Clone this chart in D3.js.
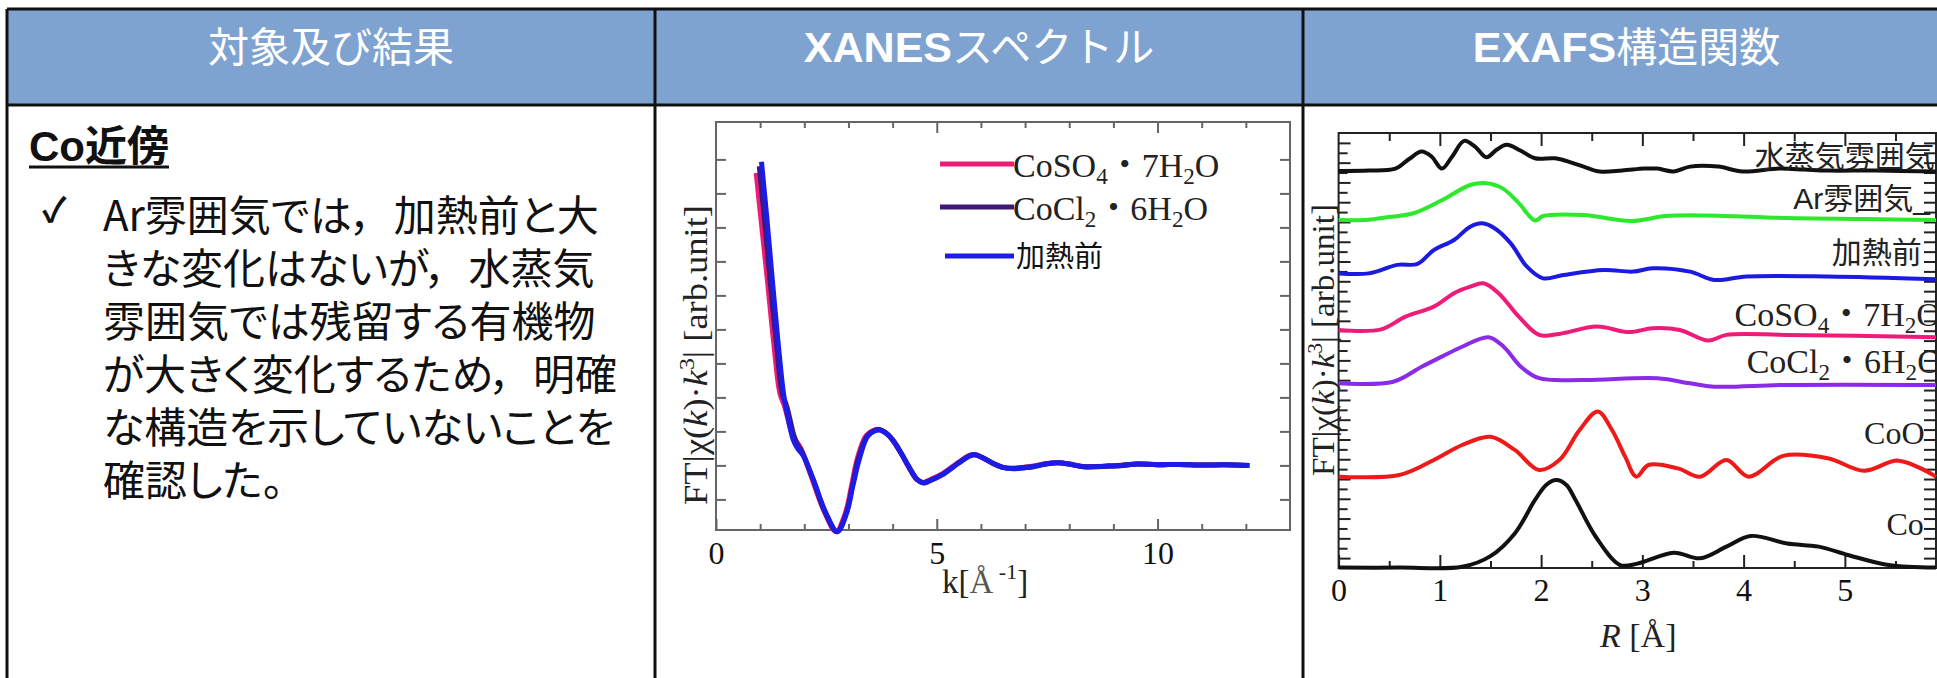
<!DOCTYPE html>
<html>
<head>
<meta charset="utf-8">
<script src="https://cdn.jsdelivr.net/npm/d3@7"></script>
<style>
body { margin: 0; background: #fff; overflow: hidden; }
text { font-family: "Liberation Sans", "Noto Sans CJK JP", sans-serif; }
.serif { font-family: "Liberation Serif", "Noto Sans CJK JP", serif; }
.jp { font-family: "Noto Sans CJK JP", sans-serif; font-feature-settings: "palt"; }
</style>
</head>
<body>
<svg id="chart" width="1937" height="678"></svg>
<script>
// table text
var headers = [
	[['対象及び結果', false]],
	[['XANES', true], ['スペクトル', false]],
	[['EXAFS', true], ['構造関数', false]]
];
var noteTitle = 'Co近傍';
var noteLines = [
	'Ar雰囲気では，加熱前と大',
	'きな変化はないが，水蒸気',
	'雰囲気では残留する有機物',
	'が大きく変化するため，明確',
	'な構造を示していないことを',
	'確認した。'
];

// XANES panel: k [1/A] vs FT|chi(k)k^3| (arb.)
var xanesNames = ['CoSO4・7H2O', 'CoCl2・6H2O', '加熱前'];
var xanesCoSO4 = [[0.91,8.6],[1.03,7.1],[1.16,5.5],[1.3,3.7],[1.45,2.1],[1.55,1.75],[1.72,0.95],[1.8,0.75],[1.92,0.5],[2.15,-0.3],[2.45,-1.35],[2.72,-1.95],[2.93,-1.4],[3.07,-0.6],[3.2,0.2],[3.4,0.88],[3.58,1.04],[3.7,1.06],[3.85,0.95],[4.0,0.75],[4.2,0.33],[4.37,-0.06],[4.55,-0.42],[4.7,-0.5],[4.85,-0.42],[5.12,-0.25],[5.5,0.1],[5.75,0.3],[5.87,0.32],[6.05,0.22],[6.26,0.06],[6.5,-0.06],[6.73,-0.08],[7.0,-0.05],[7.19,-0.02],[7.5,0.06],[7.76,0.08],[8.0,0.04],[8.32,-0.03],[8.88,-0.02],[9.2,0.01],[9.54,0.04],[10.0,0.02],[10.5,0.03],[11.0,0.01],[11.5,0.02],[12.08,0.0]];
var xanesCoCl2 = [[0.98,8.8],[1.1,7.2],[1.22,5.5],[1.36,3.7],[1.5,2.1],[1.6,1.75],[1.76,0.9],[1.84,0.62],[1.95,0.4],[2.18,-0.35],[2.47,-1.38],[2.74,-1.95],[2.95,-1.4],[3.09,-0.6],[3.22,0.18],[3.42,0.86],[3.6,1.03],[3.71,1.05],[3.85,0.95],[4.0,0.75],[4.2,0.34],[4.37,-0.05],[4.55,-0.41],[4.7,-0.51],[4.85,-0.44],[5.12,-0.27],[5.5,0.08],[5.75,0.29],[5.87,0.31],[6.05,0.22],[6.26,0.07],[6.5,-0.06],[6.73,-0.09],[7.0,-0.06],[7.19,-0.03],[7.5,0.05],[7.76,0.08],[8.0,0.04],[8.32,-0.04],[8.88,-0.02],[9.2,0.0],[9.54,0.04],[10.0,0.02],[10.5,0.03],[11.0,0.01],[11.5,0.02],[12.08,0.0]];
var xanesBefore = [[1.03,8.93],[1.15,7.3],[1.27,5.54],[1.4,3.7],[1.52,2.2],[1.57,1.8],[1.75,0.75],[1.85,0.5],[1.97,0.3],[2.2,-0.4],[2.49,-1.4],[2.75,-1.95],[2.96,-1.4],[3.1,-0.6],[3.24,0.16],[3.43,0.85],[3.6,1.02],[3.71,1.04],[3.85,0.95],[4.0,0.75],[4.2,0.35],[4.37,-0.04],[4.55,-0.4],[4.7,-0.52],[4.85,-0.45],[5.12,-0.28],[5.5,0.07],[5.75,0.28],[5.87,0.31],[6.05,0.22],[6.26,0.07],[6.5,-0.06],[6.73,-0.1],[7.0,-0.07],[7.19,-0.04],[7.5,0.05],[7.76,0.08],[8.0,0.04],[8.32,-0.04],[8.88,-0.02],[9.2,0.0],[9.54,0.04],[10.0,0.02],[10.5,0.03],[11.0,0.01],[11.5,0.02],[12.08,0.0]];
var xanesTicks = [0, 5, 10];

// EXAFS panel: R [A] vs stacked FT magnitude (arb.)
var exafsNames = ['水蒸気雰囲気', 'Ar雰囲気_', '加熱前', 'CoSO4・7H2O', 'CoCl2・6H2O', 'CoO', 'Co'];
var exafsVapor = [[0,20.08],[0.3,20.1],[0.56,20.2],[0.7,20.7],[0.82,21.06],[0.92,20.8],[1.02,20.2],[1.12,20.8],[1.24,21.6],[1.35,21.3],[1.46,20.77],[1.56,21.15],[1.66,21.4],[1.8,21.1],[1.94,20.72],[2.14,20.72],[2.3,20.5],[2.42,20.3],[2.58,20.05],[2.8,20.1],[3.02,20.2],[3.15,20.2],[3.31,20.05],[3.47,20.3],[3.75,20.3],[3.99,20.05],[4.35,20.2],[4.6,20.15],[4.83,20.1],[5.3,20.1],[5.9,20.05]];
var exafsAr = [[0,17.6],[0.26,17.6],[0.5,17.75],[0.74,17.94],[1.02,18.6],[1.3,19.37],[1.46,19.46],[1.62,19.2],[1.78,18.45],[1.94,17.57],[2.02,17.8],[2.42,17.85],[2.89,17.55],[3.23,17.8],[3.63,17.83],[4.43,17.7],[5.2,17.65],[5.9,17.6]];
var exafsBefore = [[0,14.9],[0.3,14.9],[0.58,15.33],[0.78,15.38],[0.94,16.08],[1.14,16.59],[1.3,17.26],[1.42,17.43],[1.54,17.18],[1.7,16.42],[1.86,15.24],[2.02,14.65],[2.22,14.82],[2.62,15.07],[2.91,14.99],[3.1,15.16],[3.47,14.99],[3.71,14.57],[4.03,14.74],[4.83,14.74],[5.9,14.6]];
var exafsCoSO4 = [[0,12.04],[0.42,12.07],[0.66,12.71],[0.94,13.22],[1.14,13.9],[1.3,14.23],[1.43,14.4],[1.58,13.9],[1.78,12.71],[1.98,11.79],[2.18,11.84],[2.55,12.21],[2.87,11.93],[3.1,12.13],[3.37,12.04],[3.65,11.5],[3.83,11.79],[4.43,11.79],[5.9,11.67]];
var exafsCoCl2 = [[0,9.34],[0.54,9.42],[0.82,10.18],[1.02,10.69],[1.22,11.19],[1.48,11.67],[1.63,11.19],[1.8,10.18],[1.98,9.6],[2.42,9.51],[3.15,9.6],[3.47,9.34],[3.71,9.17],[4.43,9.26],[5.9,9.26]];
var exafsCoO = [[0,4.62],[0.6,4.7],[0.94,5.46],[1.22,6.22],[1.5,6.64],[1.74,5.97],[1.98,4.96],[2.18,5.46],[2.38,6.98],[2.56,7.91],[2.7,6.98],[2.83,5.63],[2.94,4.62],[3.06,5.21],[3.35,5.04],[3.57,4.62],[3.83,5.46],[4.05,4.62],[4.39,5.67],[4.83,5.55],[5.19,4.92],[5.53,5.43],[5.9,4.62]];
var exafsCo = [[0,0.02],[0.6,0.02],[1.22,0.06],[1.5,0.6],[1.74,1.75],[1.94,3.44],[2.05,4.2],[2.15,4.45],[2.25,4.2],[2.34,3.44],[2.54,1.58],[2.78,0.15],[2.95,0.22],[3.31,0.77],[3.57,0.49],[3.83,1.08],[4.07,1.62],[4.43,1.24],[4.74,1.08],[5.03,0.66],[5.43,0.15],[5.9,0.02]];
var exafsTicks = [0, 1, 2, 3, 4, 5];

var svg = d3.select('#chart');
var W = 1937, H = 678;
var colX = [7, 655, 1303, 1950];
var headTop = 9, headBottom = 105;

// rich text: chemical formulas get subscripts, parts list gets italics/superscripts
function chem(sel, str, size) {
	var runs = [];
	for (var i = 0; i < str.length; i++) {
		var c = str[i];
		var sub = /\d/.test(c) && i > 0 && /[A-Za-z]/.test(str[i-1]);
		if (runs.length && runs[runs.length-1].sub === sub) runs[runs.length-1].t += c;
		else runs.push({t: c, sub: sub});
	}
	var shift = 0;
	runs.forEach(function(r) {
		var d = r.sub ? size*0.22 : 0;
		sel.append('tspan').attr('dy', d - shift).attr('font-size', r.sub ? size*0.68 : size).text(r.t);
		shift = d;
	});
}
function ftLabel(sel, size) {
	var parts = [['FT|χ(', 0], ['k', 1], [')·', 0], ['k', 1], ['3', 2], ['| [arb.unit]', 0]];
	var shift = 0;
	parts.forEach(function(p) {
		var d = p[1] === 2 ? -size*0.38 : 0;
		sel.append('tspan').attr('dy', d - shift)
			.attr('font-size', p[1] === 2 ? size*0.65 : size)
			.attr('font-style', p[1] === 1 ? 'italic' : 'normal')
			.text(p[0]);
		shift = d;
	});
}
function styleAxis(g, color, width) {
	g.select('.domain').remove();
	g.selectAll('.tick line').attr('stroke', color).attr('stroke-width', width);
	g.selectAll('.tick text').attr('fill', '#111').attr('font-family', null).attr('class', 'serif');
}

// ---------- table ----------
svg.append('rect').attr('x', colX[0]).attr('y', headTop).attr('width', W - colX[0]).attr('height', headBottom - headTop).attr('fill', '#7fa3d1');

headers.forEach(function(parts, i) {
	var t = svg.append('text')
		.attr('x', (colX[i] + colX[i+1]) / 2)
		.attr('y', 62)
		.attr('text-anchor', 'middle')
		.attr('fill', '#fff')
		.attr('font-size', 42);
	parts.forEach(function(p) {
		t.append('tspan')
			.attr('font-weight', p[1] ? 'bold' : 'normal')
			.attr('font-family', p[1] ? '"Liberation Sans", sans-serif' : '"Noto Sans CJK JP", sans-serif')
			.attr('font-size', p[1] ? 43 : 41)
			.text(p[0]);
	});
});

var lines = svg.append('g').attr('stroke', '#111').attr('stroke-width', 3);
lines.append('line').attr('x1', colX[0]).attr('x2', W).attr('y1', headTop).attr('y2', headTop);
lines.append('line').attr('x1', colX[0]).attr('x2', W).attr('y1', headBottom).attr('y2', headBottom);
colX.slice(0, 3).forEach(function(x) {
	lines.append('line').attr('x1', x).attr('x2', x).attr('y1', headTop).attr('y2', H);
});

// left column note
var title = svg.append('text').attr('x', 29).attr('y', 161).attr('font-size', 42).attr('font-weight', 'bold').attr('fill', '#111');
title.append('tspan').attr('font-family', '"Liberation Sans", sans-serif').text(noteTitle.slice(0, 2));
title.append('tspan').attr('font-family', '"Noto Sans CJK JP", sans-serif').text(noteTitle.slice(2));
var tw = title.node().getComputedTextLength();
svg.append('line').attr('x1', 29).attr('x2', 29 + tw).attr('y1', 167).attr('y2', 167).attr('stroke', '#111').attr('stroke-width', 3);

svg.append('text').attr('x', 42).attr('y', 222).attr('font-size', 34).attr('font-weight', 'bold')
	.attr('font-family', '"DejaVu Sans", sans-serif').attr('fill', '#111').text('✓');

// proportional kana, but the comma keeps its full-width gap
svg.append('g').selectAll('text').data(noteLines).join('text')
	.attr('class', 'jp')
	.attr('x', 103)
	.attr('y', function(d, i) { return 231 + i * 53; })
	.attr('font-size', 42)
	.attr('fill', '#111')
	.text(function(d) { return d.replace(/，/g, '，\u2002'); });

// ---------- XANES ----------
var xX = d3.scaleLinear().domain([0, 13]).range([716, 1290]);
var xY = d3.scaleLinear().domain([-1.9, 10.1]).range([530, 122]);
var gx = svg.append('g');
var xFrame = '#666';

gx.append('g').attr('transform', 'translate(0,' + xY.range()[0] + ')')
	.call(d3.axisBottom(xX).tickValues(d3.range(1, 13).filter(function(v) { return v % 5; })).tickSize(-6).tickFormat(''))
	.call(styleAxis, xFrame, 2);
gx.append('g').attr('transform', 'translate(0,' + xY.range()[0] + ')')
	.call(d3.axisBottom(xX).tickValues(xanesTicks).tickSize(-11).tickPadding(11).tickFormat(d3.format('d')))
	.call(styleAxis, xFrame, 2)
	.selectAll('.tick text').attr('font-size', 32);
gx.append('g').attr('transform', 'translate(0,' + xY.range()[1] + ')')
	.call(d3.axisTop(xX).tickValues(d3.range(1, 13)).tickSize(-6).tickFormat(''))
	.call(styleAxis, xFrame, 2)
	.selectAll('.tick line').attr('y2', function(d) { return d % 5 ? 6 : 11; });
gx.append('g').attr('transform', 'translate(' + xX.range()[0] + ',0)')
	.call(d3.axisLeft(xY).tickValues(d3.range(-1, 10)).tickSize(-10).tickFormat(''))
	.call(styleAxis, xFrame, 2);
gx.append('g').attr('transform', 'translate(' + xX.range()[1] + ',0)')
	.call(d3.axisRight(xY).tickValues(d3.range(-1, 10)).tickSize(-10).tickFormat(''))
	.call(styleAxis, xFrame, 2);
gx.append('rect')
	.attr('x', xX.range()[0]).attr('y', xY.range()[1])
	.attr('width', xX.range()[1] - xX.range()[0]).attr('height', xY.range()[0] - xY.range()[1])
	.attr('fill', 'none').attr('stroke', xFrame).attr('stroke-width', 2);

var xLine = d3.line().x(function(d) { return xX(d[0]); }).y(function(d) { return xY(d[1]); }).curve(d3.curveCatmullRom.alpha(0.5));
var xanesSeries = [xanesCoSO4, xanesCoCl2, xanesBefore];
var xanesColors = ['#ee1c78', '#3d1a78', '#1c1ce6'];
gx.selectAll('path.series').data(xanesSeries).join('path')
	.attr('class', 'series')
	.attr('d', xLine)
	.attr('fill', 'none')
	.attr('stroke', function(d, i) { return xanesColors[i]; })
	.attr('stroke-width', 5)
	.attr('stroke-linejoin', 'round');

// legend
var legY = [164, 207, 256];
xanesNames.forEach(function(name, i) {
	gx.append('line').attr('x1', i < 2 ? 940 : 945).attr('x2', 1014).attr('y1', legY[i]).attr('y2', legY[i])
		.attr('stroke', xanesColors[i]).attr('stroke-width', 5);
	if (i < 2) {
		var t = gx.append('text').attr('class', 'serif').attr('x', 1013).attr('y', legY[i] + 13).attr('fill', '#222');
		chem(t, name, 34);
	} else {
		gx.append('text').attr('x', 1016).attr('y', legY[i] + 11).attr('font-size', 29)
			.attr('font-family', '"Noto Sans CJK JP", sans-serif').attr('fill', '#111').text(name);
	}
});

var xl = gx.append('text').attr('class', 'serif').attr('text-anchor', 'middle')
	.attr('transform', 'translate(707,355) rotate(-90)').attr('fill', '#222')
	.attr('textLength', 300).attr('lengthAdjust', 'spacingAndGlyphs');
ftLabel(xl, 33);

var kl = gx.append('text').attr('class', 'serif').attr('x', 942).attr('y', 593).attr('fill', '#222').attr('font-size', 33);
kl.append('tspan').text('k[');
kl.append('tspan').attr('fill', '#555').text('Å');
kl.append('tspan').attr('font-size', 22).attr('dy', -14).text(' -1');
kl.append('tspan').attr('dy', 14).text(']');

// ---------- EXAFS ----------
var eX = d3.scaleLinear().domain([0, 5.9]).range([1338.6, 1936]);
var eY = d3.scaleLinear().domain([0, 22]).range([568, 133]);
var ge = svg.append('g');
var eFrame = '#222';

ge.append('g').attr('transform', 'translate(0,' + eY.range()[0] + ')')
	.call(d3.axisBottom(eX).tickValues(d3.range(0.5, 5.9, 1)).tickSize(-7).tickFormat(''))
	.call(styleAxis, eFrame, 2);
ge.append('g').attr('transform', 'translate(0,' + eY.range()[0] + ')')
	.call(d3.axisBottom(eX).tickValues(exafsTicks).tickSize(-13).tickPadding(10).tickFormat(d3.format('d')))
	.call(styleAxis, eFrame, 2)
	.selectAll('.tick text').attr('font-size', 32);
ge.append('g').attr('transform', 'translate(0,' + eY.range()[1] + ')')
	.call(d3.axisTop(eX).tickValues(d3.range(0.5, 5.9, 0.5)).tickSize(-7).tickFormat(''))
	.call(styleAxis, eFrame, 2)
	.selectAll('.tick line').attr('y2', function(d) { return d % 1 ? 8 : 13; });
ge.append('g').attr('transform', 'translate(' + eX.range()[0] + ',0)')
	.call(d3.axisLeft(eY).tickValues(d3.range(0.5, 22, 0.5)).tickSize(-12).tickFormat(''))
	.call(styleAxis, eFrame, 2)
	.selectAll('.tick line').attr('x2', function(d) { return d % 1 ? 12 : 9; });
ge.append('g').attr('transform', 'translate(' + eX.range()[1] + ',0)')
	.call(d3.axisRight(eY).tickValues(d3.range(0.5, 22, 0.5)).tickSize(-12).tickFormat(''))
	.call(styleAxis, eFrame, 2);
ge.append('rect')
	.attr('x', eX.range()[0]).attr('y', eY.range()[1])
	.attr('width', eX.range()[1] - eX.range()[0]).attr('height', eY.range()[0] - eY.range()[1])
	.attr('fill', 'none').attr('stroke', eFrame).attr('stroke-width', 2);

var eLine = d3.line().x(function(d) { return eX(d[0]); }).y(function(d) { return eY(d[1]); }).curve(d3.curveCatmullRom.alpha(0.5));
var exafsSeries = [exafsVapor, exafsAr, exafsBefore, exafsCoSO4, exafsCoCl2, exafsCoO, exafsCo];
var exafsColors = ['#111111', '#2ee82e', '#1a1ae0', '#ee1c78', '#8a2be8', '#ee1a1a', '#111111'];
ge.selectAll('path.series').data(exafsSeries).join('path')
	.attr('class', 'series')
	.attr('d', eLine)
	.attr('fill', 'none')
	.attr('stroke', function(d, i) { return exafsColors[i]; })
	.attr('stroke-width', 4)
	.attr('stroke-linejoin', 'round');

// labels placed in data units (R, stacked value)
var exafsLabelPos = [[4.11, 20.84], [4.49, 18.72], [4.87, 15.98], [3.91, 12.85], [4.03, 10.48], [5.19, 6.88], [5.41, 2.28]];
exafsNames.forEach(function(name, i) {
	var p = exafsLabelPos[i];
	var t = ge.append('text').attr('x', eX(p[0])).attr('fill', '#222');
	if (!/^Co/.test(name)) {
		t.attr('y', eY(p[1]) + 11).attr('font-size', 30)
			.attr('font-family', '"Noto Sans CJK JP", sans-serif').text(name);
	} else {
		t.attr('class', 'serif').attr('y', eY(p[1]) + 12);
		chem(t, name, name.length > 3 ? 34 : 32);
	}
});

var el = ge.append('text').attr('class', 'serif').attr('text-anchor', 'middle')
	.attr('transform', 'translate(1334,340) rotate(-90)').attr('fill', '#222')
	.attr('textLength', 272).attr('lengthAdjust', 'spacingAndGlyphs');
ftLabel(el, 32);

var rl = ge.append('text').attr('class', 'serif').attr('x', 1600).attr('y', 647).attr('fill', '#222').attr('font-size', 34);
rl.append('tspan').attr('font-style', 'italic').text('R');
rl.append('tspan').text(' [Å]');
</script>
</body>
</html>
